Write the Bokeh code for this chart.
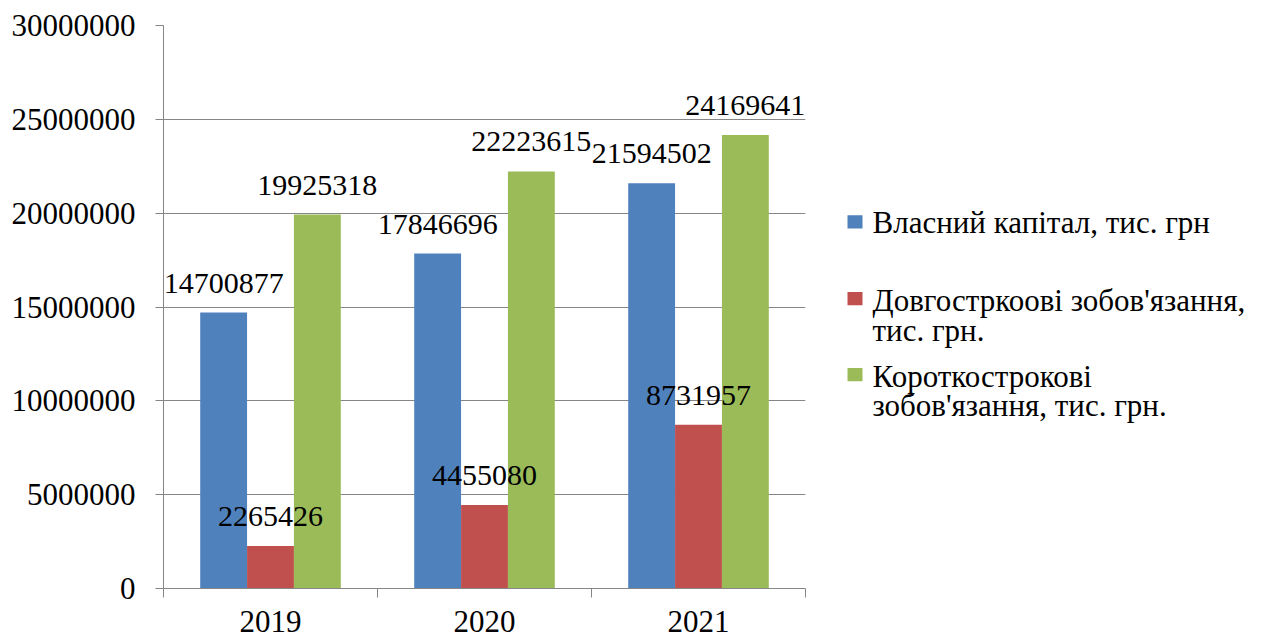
from bokeh.plotting import figure
from bokeh.models import (ColumnDataSource, Range1d, FixedTicker, NumeralTickFormatter,
                          LabelSet)
from bokeh.layouts import row
from bokeh.transform import dodge
from bokeh.embed import file_html
from bokeh.resources import INLINE

years = ["2019", "2020", "2021"]
equity = [14700877, 17846696, 21594502]
long_term = [2265426, 4455080, 8731957]
short_term = [19925318, 22223615, 24169641]
series_names = ["Власний капітал, тис. грн",
                "Довгостркоові зобов'язання, тис. грн.",
                "Короткострокові зобов'язання, тис. грн."]
legend_lines = [["Власний капітал, тис. грн"],
                ["Довгостркоові зобов'язання,", "тис. грн."],
                ["Короткострокові", "зобов'язання, тис. грн."]]
y_ticks = [0, 5000000, 10000000, 15000000, 20000000, 25000000, 30000000]

colors = ["#4F81BD", "#C0504D", "#9BBB59"]
FONT = "Liberation Serif"
GRID = "#868686"

n = len(years)
xc = [i + 0.5 for i in range(n)]
src = ColumnDataSource(dict(
    x=xc, equity=equity, long_term=long_term, short_term=short_term,
    equity_t=[str(v) for v in equity],
    long_term_t=[str(v) for v in long_term],
    short_term_t=[str(v) for v in short_term],
))

W_MAIN, H = 815, 638
p = figure(width=W_MAIN, height=H, output_backend="svg", toolbar_location=None,
           x_range=Range1d(0, n), y_range=Range1d(0, 30000000),
           min_border_left=163, min_border_right=10, min_border_top=25,
           min_border_bottom=50)
p.outline_line_color = None
p.background_fill_color = "white"

bw = 0.219
offs = [-bw, 0.0, bw]
cols = ["equity", "long_term", "short_term"]
for c, off, col in zip(cols, offs, colors):
    p.vbar(x=dodge("x", off), top=c, width=bw, source=src, fill_color=col,
           line_color=None)
for c, off in zip(cols, offs):
    p.add_layout(LabelSet(x=dodge("x", off), y=c, text=c + "_t", source=src,
                          text_align="center", text_baseline="alphabetic",
                          y_offset=20, text_font=FONT, text_font_size="30px",
                          text_color="black"))

# axes
p.xgrid.visible = False
p.ygrid.ticker = FixedTicker(ticks=y_ticks)
p.ygrid.grid_line_color = GRID
p.ygrid.grid_line_width = 1

ya = p.yaxis[0]
ya.ticker = FixedTicker(ticks=y_ticks)
ya.formatter = NumeralTickFormatter(format="0")
ya.axis_line_color = GRID
ya.major_tick_line_color = GRID
ya.major_tick_out = 8
ya.major_tick_in = 0
ya.minor_tick_line_color = None
ya.major_label_standoff = 20
ya.major_label_text_font = FONT
ya.major_label_text_font_size = "31px"
ya.major_label_text_color = "black"

xa = p.xaxis[0]
xa.ticker = FixedTicker(ticks=xc, minor_ticks=list(range(n + 1)))
xa.major_label_overrides = {x: y for x, y in zip(xc, years)}
xa.axis_line_color = GRID
xa.major_tick_line_color = None
xa.major_tick_out = 0
xa.major_tick_in = 0
xa.minor_tick_line_color = GRID
xa.minor_tick_out = 9
xa.minor_tick_in = 0
xa.major_label_standoff = 13
xa.major_label_text_font = FONT
xa.major_label_text_font_size = "31px"
xa.major_label_text_color = "black"

# legend panel
W_LEG = 1268 - W_MAIN
q = figure(width=W_LEG, height=H, output_backend="svg", toolbar_location=None,
           x_range=Range1d(0, W_LEG), y_range=Range1d(H, 0),
           min_border=0)
q.axis.visible = False
q.grid.visible = False
q.outline_line_color = None

sq_y = [222.5, 309.5, 395.5]
base_y = [[235], [323, 358], [410, 443]]
sq_x, txt_x = 39.5, 57
q.rect(x=[sq_x] * n, y=sq_y, width=15, height=15, fill_color=colors,
       line_color=None)
tx, ty, tt = [], [], []
for lines, bys in zip(legend_lines, base_y):
    for t, by in zip(lines, bys):
        tx.append(txt_x); ty.append(by); tt.append(t)
lsrc = ColumnDataSource(dict(x=tx, y=ty, t=tt))
q.add_layout(LabelSet(x="x", y="y", text="t", source=lsrc, text_align="left",
                      text_baseline="alphabetic", text_font=FONT,
                      text_font_size="31px", text_color="black"))

layout = row(p, q)
open("out.html", "w").write(file_html(layout, INLINE))
